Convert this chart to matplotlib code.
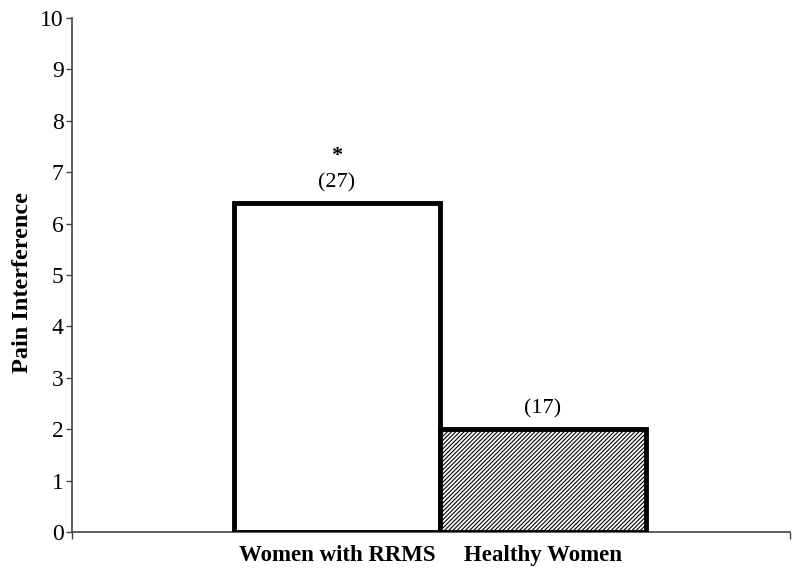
import matplotlib
matplotlib.use('Agg')
import matplotlib.pyplot as plt

groups = ['Women with RRMS', 'Healthy Women']
values = [6.4, 2.0]
n_labels = ['(27)', '(17)']
stars = ['*', '']

plt.rcParams['font.family'] = ['Liberation Serif', 'DejaVu Serif']
plt.rcParams['hatch.color'] = '#a0a0a0'
plt.rcParams['hatch.linewidth'] = 0.8

fig = plt.figure(figsize=(8, 5.72), dpi=100)
ax = fig.add_axes([0.09, 0.0699, 0.8975, 0.8986])

x = [0, 1]
hatches = [None, '////////']
for xi, v, h in zip(x, values, hatches):
    ax.bar(xi, v, width=1.0, facecolor='white', edgecolor='black',
           linewidth=3.5, hatch=h, zorder=3)

for xi, v, n, s in zip(x, values, n_labels, stars):
    ax.text(xi, v + 0.2, n, ha='center', va='bottom', fontsize=16)
    if s:
        ax.text(xi, v + 0.72, s, ha='center', va='bottom', fontsize=16,
                fontweight='bold')

ax.set_xlim(-1.286, 2.199)
ax.set_ylim(0, 10)
ax.set_yticks(range(0, 11))
ax.tick_params(axis='y', labelsize=17, length=4, width=1, pad=2, color='#444444')
ax.set_xticks(x)
ax.set_xticklabels(groups, fontsize=16.5, fontweight='bold')
ax.tick_params(axis='x', length=0, pad=9)
ax.set_xticks([-1.286, 2.199], minor=True)
ax.tick_params(axis='x', which='minor', length=5, width=1, color='#444444')

for sp in ['top', 'right']:
    ax.spines[sp].set_visible(False)
for sp in ['left', 'bottom']:
    ax.spines[sp].set_color('#444444')
    ax.spines[sp].set_linewidth(1.2)

ax.set_ylabel('Pain Interference', fontsize=17.5, fontweight='bold',
              va='center')
ax.yaxis.set_label_coords(-0.0696, 0.486)

fig.savefig('out.png', dpi=100)
